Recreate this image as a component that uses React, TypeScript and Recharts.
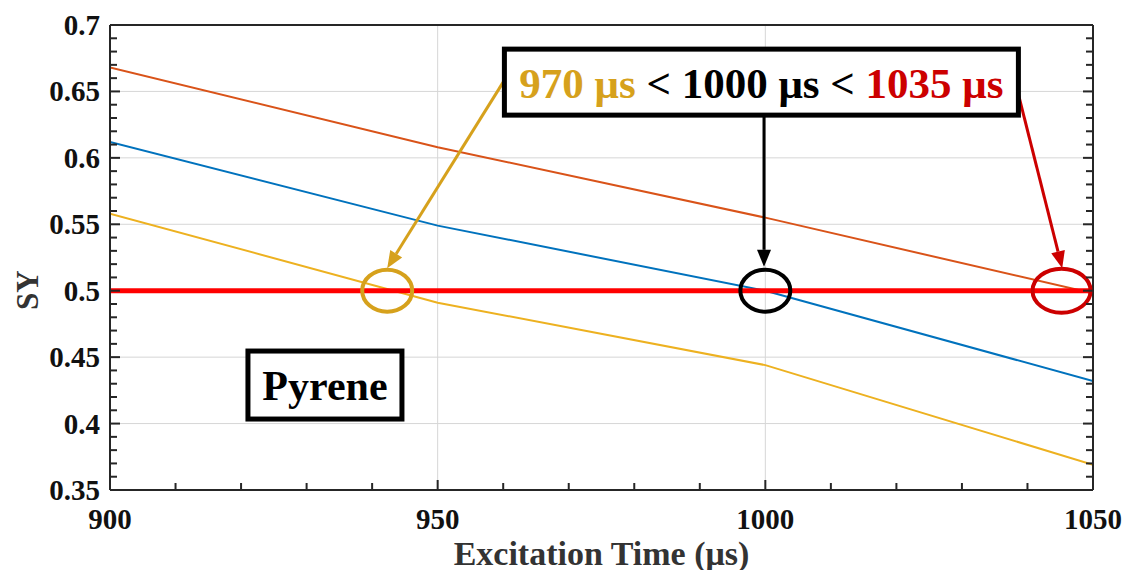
import React from "react";
import {
  LineChart,
  Line,
  XAxis,
  YAxis,
  CartesianGrid,
  ReferenceLine,
  ReferenceDot,
} from "recharts";

// excitation time (µs) and SY values
const times = [900, 950, 1000, 1050];
const syOrange = [0.668, 0.608, 0.555, 0.498];
const syBlue = [0.612, 0.549, 0.5, 0.432];
const syYellow = [0.558, 0.491, 0.444, 0.369];
const syTarget = [0.5, 0.5, 0.5, 0.5];

const xMajor = [900, 950, 1000, 1050];
const yMajor = [0.35, 0.4, 0.45, 0.5, 0.55, 0.6, 0.65, 0.7];
const xTicks = Array.from({ length: 16 }, (_, i) => 900 + i * 10);
const yTicks = Array.from({ length: 36 }, (_, i) => Math.round((0.35 + i * 0.01) * 100) / 100);

// annotation anchors (data coords)
const circles = [
  { x: 942.3, y: 0.5, color: "#D6A11C", rx: 25, ry: 21 },
  { x: 1000, y: 0.5, color: "#000000", rx: 25, ry: 21 },
  { x: 1045.2, y: 0.5, color: "#CC0000", rx: 29, ry: 22 },
];
const arrows = [
  { from: { x: 960, y: 0.657 }, to: { x: 942.3, y: 0.517 }, color: "#D6A11C" },
  { from: { x: 999.8, y: 0.631 }, to: { x: 999.8, y: 0.518 }, color: "#000000" },
  { from: { x: 1038.3, y: 0.654 }, to: { x: 1045.3, y: 0.517 }, color: "#CC0000" },
];

const data = times.map((t, i) => ({
  t,
  orange: syOrange[i],
  blue: syBlue[i],
  yellow: syYellow[i],
  target: syTarget[i],
}));

const FONT = "'Liberation Serif', 'Times New Roman', Times, serif";
const AXIS = "#262626";
const near = (v: number, arr: number[]) => arr.some((m) => Math.abs(m - v) < 1e-6);
const fmt = (v: number) => String(Number(v.toFixed(2)));

const BottomTick = (p: any) => {
  const major = near(p.payload.value, xMajor);
  return (
    <g>
      <line x1={p.x} x2={p.x} y1={p.y} y2={p.y - (major ? 10 : 7)} stroke={AXIS} strokeWidth={2} />
      {major && (
        <text x={p.x} y={p.y + 29} textAnchor="middle" dominantBaseline="central"
          fontFamily={FONT} fontWeight="bold" fontSize={29} fill="#111">
          {p.payload.value}
        </text>
      )}
    </g>
  );
};

const TopTick = (p: any) => {
  const major = near(p.payload.value, xMajor);
  return <line x1={p.x} x2={p.x} y1={p.y} y2={p.y + (major ? 10 : 7)} stroke={AXIS} strokeWidth={2} />;
};

const LeftTick = (p: any) => {
  const major = near(p.payload.value, yMajor);
  return (
    <g>
      <line x1={p.x} x2={p.x + (major ? 10 : 7)} y1={p.y} y2={p.y} stroke={AXIS} strokeWidth={2} />
      {major && (
        <text x={p.x - 10} y={p.y} textAnchor="end" dominantBaseline="central"
          fontFamily={FONT} fontWeight="bold" fontSize={29} fill="#111">
          {fmt(p.payload.value)}
        </text>
      )}
    </g>
  );
};

const RightTick = (p: any) => {
  const major = near(p.payload.value, yMajor);
  return <line x1={p.x} x2={p.x - (major ? 10 : 7)} y1={p.y} y2={p.y} stroke={AXIS} strokeWidth={2} />;
};

const arrowShape = (color: string) => (p: any) => {
  const { x1, y1, x2, y2 } = p;
  const a = Math.atan2(y2 - y1, x2 - x1);
  const L = 17;
  const W = 7;
  const bx = x2 - L * Math.cos(a);
  const by = y2 - L * Math.sin(a);
  const nx = -Math.sin(a) * W;
  const ny = Math.cos(a) * W;
  return (
    <g>
      <line x1={x1} y1={y1} x2={bx} y2={by} stroke={color} strokeWidth={3} />
      <polygon points={`${x2},${y2} ${bx + nx},${by + ny} ${bx - nx},${by - ny}`} fill={color} />
    </g>
  );
};

const ellipseShape = (c: { color: string; rx: number; ry: number }) => (p: any) => (
  <ellipse cx={p.cx} cy={p.cy} rx={c.rx} ry={c.ry} fill="none" stroke={c.color} strokeWidth={4} />
);

const RangeBox = (p: any) => (
  <g>
    <rect x={p.cx - 257} y={p.cy - 33} width={514} height={66} fill="#fff" stroke="#000" strokeWidth={5} />
    <text x={p.cx} y={p.cy + 1} textAnchor="middle" dominantBaseline="central"
      fontFamily={FONT} fontWeight="bold" fontSize={43}>
      <tspan fill="#D6A11C">970 μs</tspan>
      <tspan fill="#000"> &lt; 1000 μs &lt; </tspan>
      <tspan fill="#CC0000">1035 μs</tspan>
    </text>
  </g>
);

const PyreneBox = (p: any) => (
  <g>
    <rect x={p.cx - 77} y={p.cy - 34} width={154} height={68} fill="#fff" stroke="#000" strokeWidth={5} />
    <text x={p.cx} y={p.cy + 1} textAnchor="middle" dominantBaseline="central"
      fontFamily={FONT} fontWeight="bold" fontSize={42} fill="#000">
      Pyrene
    </text>
  </g>
);

const XTitle = (p: any) => {
  const vb = p.viewBox;
  return (
    <text x={vb.x + vb.width / 2} y={vb.y + 63} textAnchor="middle" dominantBaseline="central"
      fontFamily={FONT} fontWeight="bold" fontSize={34} fill="#333">
      Excitation Time (μs)
    </text>
  );
};

const YTitle = (p: any) => {
  const vb = p.viewBox;
  const cx = vb.x - 81;
  const cy = vb.y + vb.height * 0.57;
  return (
    <text x={cx} y={cy} textAnchor="middle" dominantBaseline="central" transform={`rotate(-90 ${cx} ${cy})`}
      fontFamily={FONT} fontWeight="bold" fontSize={31} fill="#333">
      SY
    </text>
  );
};

export default function App() {
  return (
    <div style={{ position: "absolute", left: 0, top: 0, background: "#fff" }}>
      <LineChart width={1127} height={570} data={data}
        margin={{ top: 24, right: 33, bottom: 79, left: 109 }}>
        <CartesianGrid horizontalValues={yMajor} verticalValues={xMajor} stroke="#d6d6d6" strokeWidth={1} />
        <XAxis dataKey="t" type="number" domain={[900, 1050]} ticks={xTicks} interval={0}
          allowDataOverflow height={1} tickSize={0} tickMargin={0} tickLine={false}
          axisLine={{ stroke: AXIS, strokeWidth: 2 }} tick={<BottomTick />} label={{ content: <XTitle /> }} />
        <XAxis xAxisId="top" orientation="top" type="number" domain={[900, 1050]} ticks={xTicks} interval={0}
          allowDataOverflow height={1} tickSize={0} tickMargin={0} tickLine={false}
          axisLine={{ stroke: AXIS, strokeWidth: 2 }} tick={<TopTick />} />
        <YAxis type="number" domain={[0.35, 0.7]} ticks={yTicks} interval={0} allowDataOverflow
          width={1} tickSize={0} tickMargin={0} tickLine={false}
          axisLine={{ stroke: AXIS, strokeWidth: 2 }} tick={<LeftTick />} label={{ content: <YTitle /> }} />
        <YAxis yAxisId="right" orientation="right" type="number" domain={[0.35, 0.7]} ticks={yTicks}
          interval={0} allowDataOverflow width={1} tickSize={0} tickMargin={0} tickLine={false}
          axisLine={{ stroke: AXIS, strokeWidth: 2 }} tick={<RightTick />} />
        <Line type="linear" dataKey="orange" stroke="#D95319" strokeWidth={2} dot={false} isAnimationActive={false} />
        <Line type="linear" dataKey="blue" stroke="#0072BD" strokeWidth={2} dot={false} isAnimationActive={false} />
        <Line type="linear" dataKey="yellow" stroke="#EDB120" strokeWidth={2} dot={false} isAnimationActive={false} />
        <Line type="linear" dataKey="target" stroke="#FF0000" strokeWidth={5} dot={false} isAnimationActive={false} />
        {arrows.map((a, i) => (
          <ReferenceLine key={`a${i}`} segment={[a.from, a.to]} ifOverflow="visible" shape={arrowShape(a.color)} />
        ))}
        {circles.map((c, i) => (
          <ReferenceDot key={`c${i}`} x={c.x} y={c.y} r={1} ifOverflow="visible" shape={ellipseShape(c)} />
        ))}
        <ReferenceDot x={999.4} y={0.657} r={1} ifOverflow="visible" shape={<RangeBox />} />
        <ReferenceDot x={932.8} y={0.429} r={1} ifOverflow="visible" shape={<PyreneBox />} />
      </LineChart>
    </div>
  );
}
